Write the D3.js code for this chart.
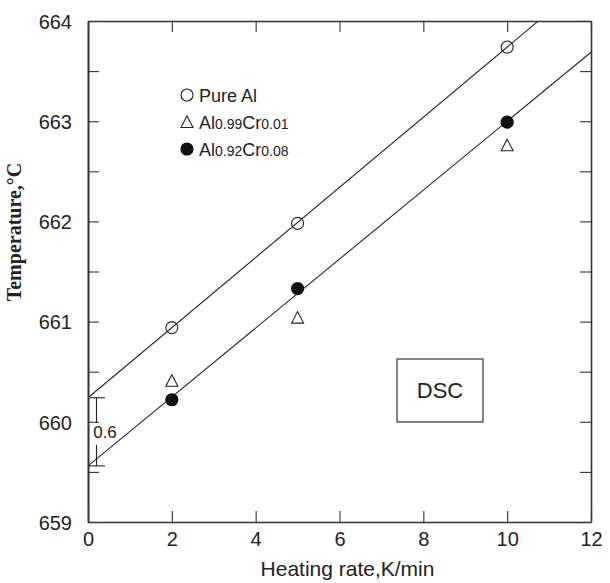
<!DOCTYPE html>
<html>
<head>
<meta charset="utf-8">
<script src="https://cdn.jsdelivr.net/npm/d3@7"></script>
<style>
  html, body { margin: 0; padding: 0; background: #ffffff; }
  svg { display: block; }
</style>
</head>
<body>
<div id="chart"></div>
<script>
// ---- data ----
const heatingRates = [2, 5, 10];
const pureAl = [660.94, 661.98, 663.74];
const al099cr001 = [660.41, 661.04, 662.76];
const al092cr008 = [660.22, 661.33, 662.99];
// fitted lines: [intercept, slope]
const upperFit = [660.24, 0.35];
const lowerFit = [659.56, 0.344];
const xTicks = [0, 2, 4, 6, 8, 10, 12];
const yTicks = [659, 660, 661, 662, 663, 664];
const yMinorTicks = [659.5, 660.5, 661.5, 662.5, 663.5];
const legendLabels = [
  { parts: [["Pure Al", false]], sym: "open" },
  { parts: [["Al", false], ["0.99", true], ["Cr", false], ["0.01", true]], sym: "tri" },
  { parts: [["Al", false], ["0.92", true], ["Cr", false], ["0.08", true]], sym: "filled" }
];

const W = 610, H = 583;
const margin = { left: 88, right: 19, top: 21, bottom: 61 };
const svg = d3.select("#chart").append("svg").attr("width", W).attr("height", H);

const x = d3.scaleLinear().domain([0, 12]).range([margin.left, W - margin.right]);
const y = d3.scaleLinear().domain([659, 664]).range([H - margin.bottom, margin.top]);

const axisColor = "#333";
const sans = "'Liberation Sans', Arial, Helvetica, sans-serif";

// clip
svg.append("clipPath").attr("id", "plotclip").append("rect")
  .attr("x", x(0)).attr("y", y(664)).attr("width", x(12) - x(0)).attr("height", y(659) - y(664));

// fitted lines
const plot = svg.append("g").attr("clip-path", "url(#plotclip)");
[upperFit, lowerFit].forEach(f => {
  plot.append("line")
    .attr("x1", x(0)).attr("y1", y(f[0]))
    .attr("x2", x(12)).attr("y2", y(f[0] + f[1] * 12))
    .attr("stroke", "#222").attr("stroke-width", 1.1);
});

// axes
const tickLen = 11;
const bottomAxis = d3.axisBottom(x).tickValues(xTicks).tickSizeInner(-tickLen).tickSizeOuter(0).tickPadding(14).tickFormat(d3.format("d"));
const gB = svg.append("g").attr("transform", `translate(0,${y(659)})`).call(bottomAxis);
const leftAxis = d3.axisLeft(y).tickValues(yTicks).tickSizeInner(-tickLen).tickSizeOuter(0).tickPadding(16).tickFormat(d3.format("d"));
const gL = svg.append("g").attr("transform", `translate(${x(0)},0)`).call(leftAxis);
const leftMinor = d3.axisLeft(y).tickValues(yMinorTicks).tickSizeInner(-tickLen).tickSizeOuter(0).tickFormat("");
const gLm = svg.append("g").attr("transform", `translate(${x(0)},0)`).call(leftMinor);
const topAxis = d3.axisTop(x).tickValues(xTicks).tickSizeInner(-tickLen).tickSizeOuter(0).tickFormat("");
const gT = svg.append("g").attr("transform", `translate(0,${y(664)})`).call(topAxis);
const rightAxis = d3.axisRight(y).tickValues(yTicks.concat(yMinorTicks)).tickSizeInner(-tickLen).tickSizeOuter(0).tickFormat("");
const gR = svg.append("g").attr("transform", `translate(${x(12)},0)`).call(rightAxis);

[gB, gL, gLm, gT, gR].forEach(g => {
  g.selectAll(".domain").attr("stroke", axisColor).attr("stroke-width", 1.6);
  g.selectAll(".tick line").attr("stroke", axisColor).attr("stroke-width", 1.1);
  g.selectAll(".tick text").attr("fill", "#222").style("font-family", sans).style("font-size", "20px");
});
gB.selectAll(".tick text").attr("dy", "0.5em");
gL.selectAll(".tick text").attr("dy", "0.36em");

// axis titles
svg.append("text")
  .attr("x", (x(0) + x(12)) / 2 + 8).attr("y", 576)
  .attr("text-anchor", "middle")
  .style("font-family", sans).style("font-size", "21px").attr("fill", "#222")
  .text("Heating rate,K/min");

svg.append("text")
  .attr("transform", `translate(21,${232}) rotate(-90)`)
  .attr("text-anchor", "middle")
  .style("font-family", "'Liberation Serif', 'Times New Roman', serif")
  .style("font-weight", "bold").style("font-size", "20px").attr("fill", "#222")
  .text("Temperature,°C");

// markers
const r = 6;
function drawMarker(g, sym, cx, cy) {
  if (sym === "open") {
    g.append("circle").attr("cx", cx).attr("cy", cy).attr("r", r)
      .attr("fill", "none").attr("stroke", "#222").attr("stroke-width", 1.1);
  } else if (sym === "filled") {
    g.append("circle").attr("cx", cx).attr("cy", cy).attr("r", r + 0.6)
      .attr("fill", "#111").attr("stroke", "none");
  } else {
    const p = d3.path();
    p.moveTo(cx, cy - 6); p.lineTo(cx + 6, cy + 5.5); p.lineTo(cx - 6, cy + 5.5); p.closePath();
    g.append("path").attr("d", p.toString())
      .attr("fill", "none").attr("stroke", "#222").attr("stroke-width", 1.1);
  }
}
const pts = svg.append("g");
heatingRates.forEach((h, i) => {
  drawMarker(pts, "open", x(h), y(pureAl[i]));
  drawMarker(pts, "tri", x(h), y(al099cr001[i]));
  drawMarker(pts, "filled", x(h), y(al092cr008[i]));
});

// legend
const lg = svg.append("g");
legendLabels.forEach((d, i) => {
  const ly = 95 + i * 27;
  drawMarker(lg, d.sym, 187, ly);
  const t = lg.append("text").attr("x", 199).attr("y", ly + 7)
    .style("font-family", sans).attr("fill", "#222");
  d.parts.forEach(p => {
    t.append("tspan").style("font-size", p[1] ? "14px" : "18px").text(p[0]);
  });
});

// DSC box
svg.append("rect").attr("x", 397).attr("y", 359).attr("width", 86).attr("height", 63)
  .attr("fill", "none").attr("stroke", "#222").attr("stroke-width", 1.1);
svg.append("text").attr("x", 440).attr("y", 398).attr("text-anchor", "middle")
  .style("font-family", sans).style("font-size", "22px").attr("fill", "#222").text("DSC");

// 0.6 bracket annotation
const bx = 96.5;
const yTop = y(upperFit[0]), yBot = y(lowerFit[0]);
const ann = svg.append("g").attr("stroke", "#222").attr("stroke-width", 1.1);
ann.append("line").attr("x1", 90).attr("x2", 105).attr("y1", yTop).attr("y2", yTop);
ann.append("line").attr("x1", 88).attr("x2", 105).attr("y1", yBot).attr("y2", yBot);
ann.append("line").attr("x1", bx).attr("x2", bx).attr("y1", yTop).attr("y2", yTop + 25);
ann.append("line").attr("x1", bx).attr("x2", bx).attr("y1", yBot - 21).attr("y2", yBot);
svg.append("text").attr("x", 105).attr("y", 438).attr("text-anchor", "middle")
  .style("font-family", sans).style("font-size", "17px").attr("fill", "#222").text("0.6");
</script>
</body>
</html>
